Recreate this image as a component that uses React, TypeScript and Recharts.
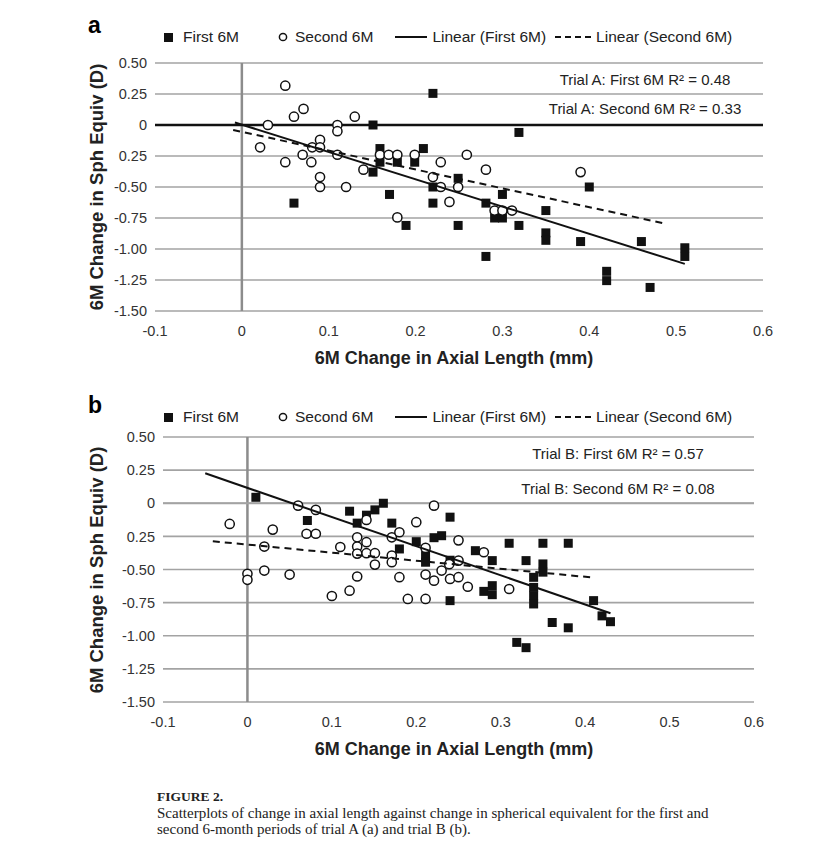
import { CartesianGrid, ReferenceLine, Scatter, ScatterChart, XAxis, YAxis } from "recharts"

type Pt = { x: number; y: number }

const xTicks = [-0.1, 0, 0.1, 0.2, 0.3, 0.4, 0.5, 0.6]
const xTickLabels = ["-0.1", "0", "0.1", "0.2", "0.3", "0.4", "0.5", "0.6"]
const yTicks = [0.5, 0.25, 0, -0.25, -0.5, -0.75, -1, -1.25, -1.5]
const yTickLabels = ["0.50", "0.25", "0", "0.25", "-0.50", "-0.75", "-1.00", "-1.25", "-1.50"]

const legendLabels = ["First 6M", "Second 6M", "Linear (First 6M)", "Linear (Second 6M)"]

// trial A, first 6 months (filled squares)
const trialAFirst: Pt[] = [
  { x: 0.06, y: -0.63 }, { x: 0.151, y: 0.0 }, { x: 0.151, y: -0.38 }, { x: 0.159, y: -0.19 },
  { x: 0.159, y: -0.3 }, { x: 0.17, y: -0.56 }, { x: 0.179, y: -0.3 }, { x: 0.189, y: -0.81 },
  { x: 0.199, y: -0.3 }, { x: 0.209, y: -0.19 }, { x: 0.22, y: 0.255 }, { x: 0.22, y: -0.5 },
  { x: 0.22, y: -0.63 }, { x: 0.249, y: -0.43 }, { x: 0.249, y: -0.81 }, { x: 0.281, y: -0.63 },
  { x: 0.281, y: -1.06 }, { x: 0.291, y: -0.75 }, { x: 0.3, y: -0.56 }, { x: 0.3, y: -0.75 },
  { x: 0.319, y: -0.06 }, { x: 0.319, y: -0.81 }, { x: 0.35, y: -0.69 }, { x: 0.35, y: -0.87 },
  { x: 0.35, y: -0.93 }, { x: 0.39, y: -0.94 }, { x: 0.4, y: -0.5 }, { x: 0.42, y: -1.18 },
  { x: 0.42, y: -1.255 }, { x: 0.46, y: -0.94 }, { x: 0.47, y: -1.31 }, { x: 0.51, y: -0.99 },
  { x: 0.51, y: -1.06 },
]

// trial A, second 6 months (open circles)
const trialASecond: Pt[] = [
  { x: 0.021, y: -0.18 }, { x: 0.03, y: 0.0 }, { x: 0.05, y: 0.317 }, { x: 0.05, y: -0.3 },
  { x: 0.06, y: 0.067 }, { x: 0.07, y: -0.24 }, { x: 0.071, y: 0.13 }, { x: 0.08, y: -0.3 },
  { x: 0.081, y: -0.18 }, { x: 0.09, y: -0.12 }, { x: 0.09, y: -0.18 }, { x: 0.09, y: -0.42 },
  { x: 0.09, y: -0.5 }, { x: 0.11, y: 0.0 }, { x: 0.11, y: -0.05 }, { x: 0.11, y: -0.24 },
  { x: 0.12, y: -0.5 }, { x: 0.13, y: 0.067 }, { x: 0.14, y: -0.36 }, { x: 0.159, y: -0.24 },
  { x: 0.169, y: -0.24 }, { x: 0.179, y: -0.24 }, { x: 0.179, y: -0.745 }, { x: 0.199, y: -0.24 },
  { x: 0.22, y: -0.42 }, { x: 0.229, y: -0.3 }, { x: 0.229, y: -0.5 }, { x: 0.239, y: -0.62 },
  { x: 0.249, y: -0.5 }, { x: 0.259, y: -0.24 }, { x: 0.281, y: -0.36 }, { x: 0.291, y: -0.69 },
  { x: 0.3, y: -0.69 }, { x: 0.311, y: -0.69 }, { x: 0.39, y: -0.38 },
]

const trialAFirstFit: Pt[] = [{ x: -0.008, y: 0.02 }, { x: 0.51, y: -1.12 }]
const trialASecondFit: Pt[] = [{ x: -0.01, y: -0.04 }, { x: 0.484, y: -0.79 }]

// trial B, first 6 months (filled squares)
const trialBFirst: Pt[] = [
  { x: 0.01, y: 0.045 }, { x: 0.071, y: -0.13 }, { x: 0.121, y: -0.06 }, { x: 0.13, y: -0.15 },
  { x: 0.141, y: -0.09 }, { x: 0.151, y: -0.05 }, { x: 0.161, y: 0.0 }, { x: 0.171, y: -0.15 },
  { x: 0.18, y: -0.345 }, { x: 0.2, y: -0.29 }, { x: 0.211, y: -0.395 }, { x: 0.211, y: -0.445 },
  { x: 0.221, y: -0.26 }, { x: 0.23, y: -0.245 }, { x: 0.24, y: -0.105 }, { x: 0.24, y: -0.43 },
  { x: 0.24, y: -0.735 }, { x: 0.27, y: -0.358 }, { x: 0.28, y: -0.665 }, { x: 0.29, y: -0.433 },
  { x: 0.29, y: -0.622 }, { x: 0.29, y: -0.69 }, { x: 0.31, y: -0.302 }, { x: 0.319, y: -1.05 },
  { x: 0.33, y: -0.433 }, { x: 0.33, y: -1.09 }, { x: 0.339, y: -0.559 }, { x: 0.339, y: -0.635 },
  { x: 0.339, y: -0.698 }, { x: 0.339, y: -0.76 }, { x: 0.35, y: -0.302 }, { x: 0.35, y: -0.458 },
  { x: 0.35, y: -0.52 }, { x: 0.361, y: -0.9 }, { x: 0.38, y: -0.302 }, { x: 0.38, y: -0.94 },
  { x: 0.41, y: -0.735 }, { x: 0.42, y: -0.85 }, { x: 0.43, y: -0.894 },
]

// trial B, second 6 months (open circles)
const trialBSecond: Pt[] = [
  { x: -0.021, y: -0.156 }, { x: 0.0, y: -0.533 }, { x: 0.0, y: -0.578 }, { x: 0.02, y: -0.327 },
  { x: 0.02, y: -0.508 }, { x: 0.03, y: -0.199 }, { x: 0.05, y: -0.538 }, { x: 0.06, y: -0.018 },
  { x: 0.07, y: -0.23 }, { x: 0.081, y: -0.23 }, { x: 0.081, y: -0.05 }, { x: 0.1, y: -0.7 },
  { x: 0.11, y: -0.33 }, { x: 0.121, y: -0.66 }, { x: 0.13, y: -0.257 }, { x: 0.13, y: -0.327 },
  { x: 0.13, y: -0.38 }, { x: 0.13, y: -0.553 }, { x: 0.141, y: -0.126 }, { x: 0.141, y: -0.294 },
  { x: 0.141, y: -0.377 }, { x: 0.151, y: -0.377 }, { x: 0.151, y: -0.463 }, { x: 0.171, y: -0.257 },
  { x: 0.171, y: -0.395 }, { x: 0.171, y: -0.445 }, { x: 0.18, y: -0.219 }, { x: 0.18, y: -0.558 },
  { x: 0.19, y: -0.722 }, { x: 0.2, y: -0.143 }, { x: 0.211, y: -0.337 }, { x: 0.211, y: -0.538 },
  { x: 0.211, y: -0.722 }, { x: 0.221, y: -0.018 }, { x: 0.221, y: -0.584 }, { x: 0.23, y: -0.508 },
  { x: 0.239, y: -0.46 }, { x: 0.24, y: -0.571 }, { x: 0.25, y: -0.28 }, { x: 0.25, y: -0.433 },
  { x: 0.25, y: -0.558 }, { x: 0.261, y: -0.63 }, { x: 0.28, y: -0.37 }, { x: 0.31, y: -0.647 },
]

const trialBFirstFit: Pt[] = [{ x: -0.05, y: 0.226 }, { x: 0.43, y: -0.83 }]
const trialBSecondFit: Pt[] = [{ x: -0.041, y: -0.287 }, { x: 0.408, y: -0.56 }]

const SANS = "Arial, 'Liberation Sans', Helvetica, sans-serif"
const SERIF = "'Times New Roman', 'Liberation Serif', serif"

const square = (p: any) => <rect x={p.cx - 4.5} y={p.cy - 4.5} width={9} height={9} fill="#111" />
const ring = (p: any) => <circle cx={p.cx} cy={p.cy} r={4.6} fill="#fff" stroke="#111" strokeWidth={1.5} />
const nothing = () => <g />

interface PanelProps {
  top: number
  height: number
  letter: string
  plot: { top: number; bottom: number; left: number; right: number }
  first: Pt[]
  second: Pt[]
  firstFit: Pt[]
  secondFit: Pt[]
  r2: string[]
  r2x: number
  r2y: number[]
  darkZero: boolean
}

function Legend({ y }: { y: number }) {
  const txt: React.CSSProperties = { fontSize: 15.5, color: "#222" }
  return (
    <div style={{ position: "absolute", left: 164, top: y - 10, height: 20, display: "flex", alignItems: "center", fontFamily: SANS, whiteSpace: "nowrap" }}>
      <svg width={9} height={9}><rect width={9} height={9} fill="#111" /></svg>
      <span style={{ ...txt, marginLeft: 10 }}>{legendLabels[0]}</span>
      <svg width={10} height={10} style={{ marginLeft: 39 }}><circle cx={5} cy={5} r={3.6} fill="#fff" stroke="#111" strokeWidth={1.5} /></svg>
      <span style={{ ...txt, marginLeft: 7 }}>{legendLabels[1]}</span>
      <svg width={32} height={6} style={{ marginLeft: 22 }}><line x1={0} y1={3} x2={32} y2={3} stroke="#111" strokeWidth={2} /></svg>
      <span style={{ ...txt, marginLeft: 5 }}>{legendLabels[2]}</span>
      <svg width={36} height={6} style={{ marginLeft: 9 }}><line x1={0} y1={3} x2={36} y2={3} stroke="#111" strokeWidth={2} strokeDasharray="6 4" /></svg>
      <span style={{ ...txt, marginLeft: 5 }}>{legendLabels[3]}</span>
    </div>
  )
}

function Panel(props: PanelProps) {
  const { plot } = props
  const chartH = plot.bottom + 40
  const tick = { fontSize: 14.5, fill: "#333", fontFamily: SANS }
  return (
    <div style={{ position: "absolute", left: 0, top: props.top, width: 832, height: props.height }}>
      <div style={{ position: "absolute", left: 0, top: 0 }}>
        <ScatterChart
          width={832}
          height={chartH}
          margin={{ top: plot.top, left: plot.left - 50, right: 832 - plot.right, bottom: 10 }}
        >
          <CartesianGrid vertical={false} stroke="#a3a3a3" strokeWidth={1.6} />
          <XAxis
            type="number"
            dataKey="x"
            domain={[-0.1, 0.6]}
            ticks={xTicks}
            tickFormatter={(v: number) => xTickLabels[xTicks.indexOf(v)]}
            axisLine={false}
            tickLine={false}
            tickSize={0}
            tickMargin={15}
            height={30}
            tick={tick}
            allowDataOverflow
          />
          <YAxis
            type="number"
            dataKey="y"
            domain={[-1.5, 0.5]}
            ticks={yTicks}
            tickFormatter={(v: number) => yTickLabels[yTicks.indexOf(v)]}
            axisLine={false}
            tickLine={false}
            tickSize={0}
            tickMargin={8}
            width={50}
            tick={tick}
            allowDataOverflow
          />
          <ReferenceLine x={0} stroke="#8c8c8c" strokeWidth={2.5} />
          <ReferenceLine
            y={0}
            stroke={props.darkZero ? "#111" : "#a3a3a3"}
            strokeWidth={props.darkZero ? 2.6 : 1.8}
          />
          <Scatter data={props.first} shape={square} isAnimationActive={false} />
          <Scatter data={props.second} shape={ring} isAnimationActive={false} />
          <Scatter
            data={props.firstFit}
            shape={nothing}
            line={{ stroke: "#111", strokeWidth: 2 }}
            lineType="joint"
            isAnimationActive={false}
          />
          <Scatter
            data={props.secondFit}
            shape={nothing}
            line={{ stroke: "#111", strokeWidth: 2, strokeDasharray: "7 5" }}
            lineType="joint"
            isAnimationActive={false}
          />
        </ScatterChart>
      </div>

      <div style={{ position: "absolute", left: 88, top: 13, fontFamily: SANS, fontWeight: "bold", fontSize: 23, lineHeight: "24px" }}>
        {props.letter}
      </div>
      <Legend y={37} />
      {props.r2.map((t, i) => (
        <div
          key={t}
          style={{
            position: "absolute",
            left: props.r2x,
            top: props.r2y[i],
            transform: "translate(-50%, -50%)",
            fontFamily: SANS,
            fontSize: 15,
            color: "#222",
            whiteSpace: "nowrap",
          }}
        >
          {t}
        </div>
      ))}
      <div
        style={{
          position: "absolute",
          left: 97,
          top: (plot.top + plot.bottom) / 2,
          transform: "translate(-50%, -50%) rotate(-90deg)",
          fontFamily: SANS,
          fontWeight: "bold",
          fontSize: 18.5,
          color: "#222",
          whiteSpace: "nowrap",
        }}
      >
        6M Change in Sph Equiv (D)
      </div>
      <div
        style={{
          position: "absolute",
          left: 454,
          top: plot.bottom + 47,
          transform: "translate(-50%, -50%)",
          fontFamily: SANS,
          fontWeight: "bold",
          fontSize: 18,
          color: "#222",
          whiteSpace: "nowrap",
        }}
      >
        6M Change in Axial Length (mm)
      </div>
    </div>
  )
}

export default function App() {
  return (
    <div style={{ position: "absolute", left: 0, top: 0, width: 832, height: 857, background: "#fff", overflow: "hidden" }}>
      <Panel
        top={0}
        height={380}
        letter="a"
        plot={{ top: 63, bottom: 311, left: 155, right: 763 }}
        first={trialAFirst}
        second={trialASecond}
        firstFit={trialAFirstFit}
        secondFit={trialASecondFit}
        r2={["Trial A: First 6M R² = 0.48", "Trial A: Second 6M R² = 0.33"]}
        r2x={645}
        r2y={[79, 108]}
        darkZero
      />
      <Panel
        top={380}
        height={390}
        letter="b"
        plot={{ top: 57, bottom: 322, left: 163, right: 754 }}
        first={trialBFirst}
        second={trialBSecond}
        firstFit={trialBFirstFit}
        secondFit={trialBSecondFit}
        r2={["Trial B: First 6M R² = 0.57", "Trial B: Second 6M R² = 0.08"]}
        r2x={618}
        r2y={[73, 108]}
        darkZero={false}
      />
      <div style={{ position: "absolute", left: 157, top: 789, fontFamily: SERIF, color: "#222" }}>
        <div style={{ fontSize: 13.5, fontWeight: "bold", lineHeight: "16px" }}>FIGURE 2.</div>
        <div style={{ fontSize: 15, lineHeight: "16px" }}>
          Scatterplots of change in axial length against change in spherical equivalent for the first and
          <br />
          second 6-month periods of trial A (a) and trial B (b).
        </div>
      </div>
    </div>
  )
}
